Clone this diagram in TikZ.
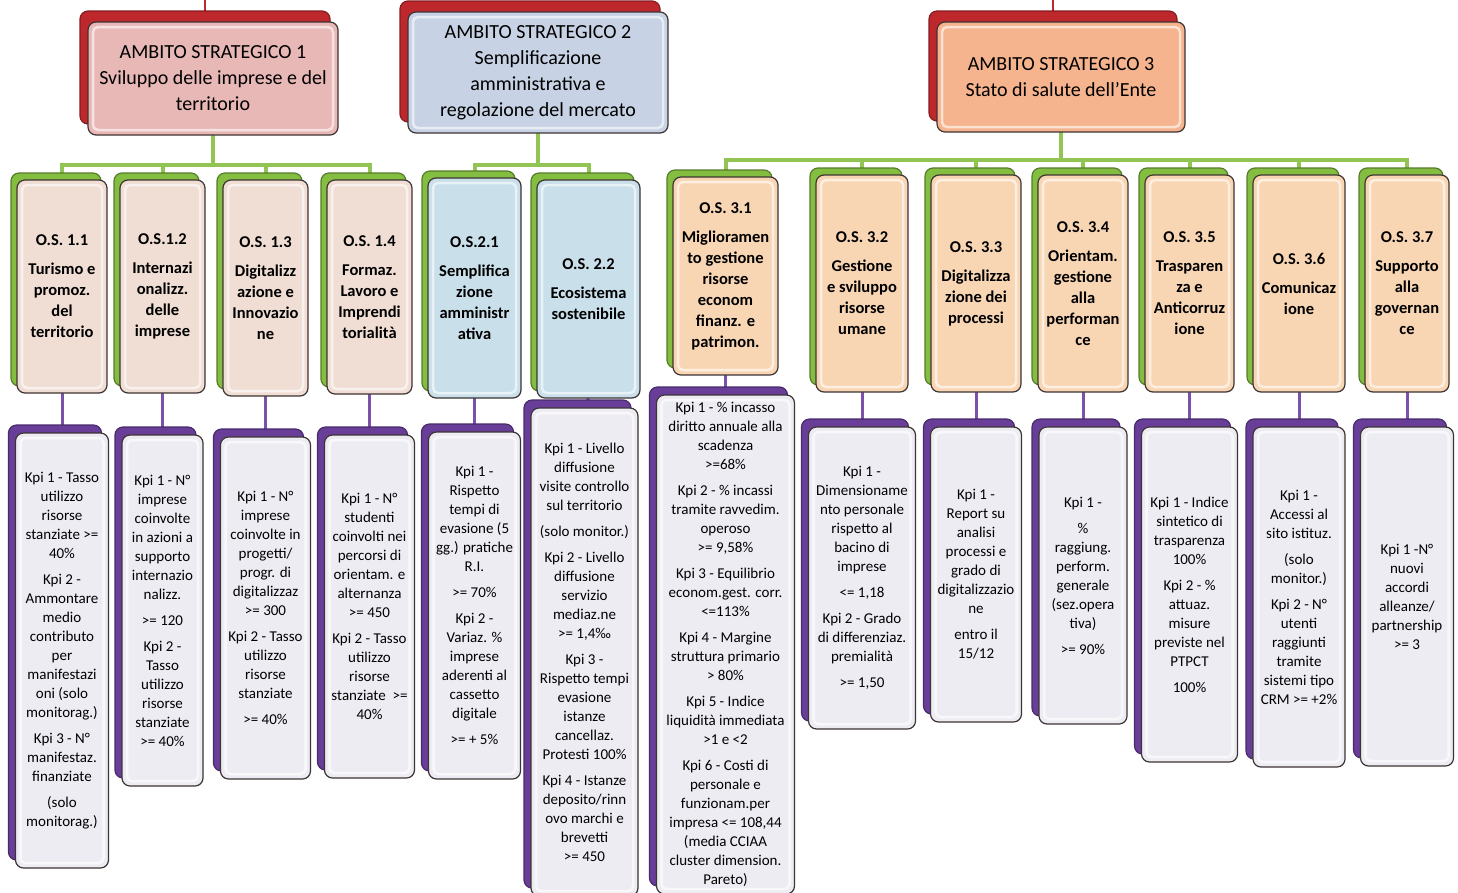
\documentclass[tikz,border=0pt]{standalone}
\usepackage{fontspec}
\setmainfont{Carlito}
\usetikzlibrary{positioning, shadows, backgrounds}

\definecolor{asred}{RGB}{190,40,45}
\definecolor{as1fill}{RGB}{232,184,182}
\definecolor{as2fill}{RGB}{199,210,228}
\definecolor{as3fill}{RGB}{245,180,142}
\definecolor{osgreen}{RGB}{132,190,65}
\definecolor{os1fill}{RGB}{240,222,212}
\definecolor{os2fill}{RGB}{201,223,234}
\definecolor{os3fill}{RGB}{248,214,180}
\definecolor{kpipurple}{RGB}{104,62,152}
\definecolor{kpifill}{RGB}{238,236,243}
\definecolor{linkgreen}{RGB}{146,196,84}
\definecolor{linkpurple}{RGB}{122,82,172}
\definecolor{boxedge}{RGB}{62,52,52}

\begin{document}
\begin{tikzpicture}[
    x=1pt, y=-1pt,
    bevelbox/.style={rectangle, rounded corners=8pt, draw=boxedge, line width=1.2pt, inner sep=0pt, outer sep=0pt, align=center,
        path picture={\draw[white, opacity=.6, line width=2.5pt, rounded corners=5pt]
            ([shift={(5pt,5pt)}]path picture bounding box.south west) rectangle
            ([shift={(-5pt,-5pt)}]path picture bounding box.north east);}},
    ambito/.style={bevelbox, font=\fontsize{20}{26}\selectfont,
        drop shadow={shadow xshift=-8pt, shadow yshift=11pt, fill=asred, draw=asred!70!black, opacity=1}},
    obiettivo/.style={bevelbox, font=\bfseries\fontsize{16.5}{21}\selectfont,
        drop shadow={shadow xshift=-6pt, shadow yshift=7pt, fill=osgreen, draw=osgreen!65!black, opacity=1}},
    ob1/.style={obiettivo, fill=os1fill},
    ob2/.style={obiettivo, fill=os2fill},
    ob3/.style={obiettivo, fill=os3fill},
    kpibox/.style={bevelbox, fill=kpifill, font=\fontsize{15}{19}\selectfont,
        drop shadow={shadow xshift=-7pt, shadow yshift=8pt, fill=kpipurple, draw=kpipurple!70!black, opacity=1}},
    greenlink/.style={draw=linkgreen, line width=4pt},
    purplelink/.style={draw=linkpurple, line width=3pt},
    redlink/.style={draw=asred, line width=1.5pt}
]
\useasboundingbox (0,0) rectangle (1458,892);

% === AMBITI STRATEGICI ===
\node (as1) [ambito, fill=as1fill, minimum width=250pt, minimum height=113pt, anchor=north west] at (88,22)
    {AMBITO STRATEGICO 1\\Sviluppo delle imprese e del\\territorio};
\node (as2) [ambito, fill=as2fill, minimum width=260pt, minimum height=121pt, anchor=north west] at (408,12)
    {AMBITO STRATEGICO 2\\Semplificazione\\amministrativa e\\regolazione del mercato};
\node (as3) [ambito, fill=as3fill, minimum width=248pt, minimum height=110pt, anchor=north west] at (937,22)
    {AMBITO STRATEGICO 3\\Stato di salute dell'Ente};

\coordinate (up1) at (205,0);
\coordinate (up3) at (1053,0);

% === OBIETTIVI STRATEGICI ===
\node (os11) [ob1, minimum width=90pt, minimum height=213pt, anchor=north west] at (17,180)
    {O.S. 1.1\\[8pt]Turismo e\\promoz.\\del\\territorio};
\node (os12) [ob1, minimum width=85pt, minimum height=213pt, right=13pt of os11.north east, anchor=north west]
    {O.S.1.2\\[8pt]Internazi\\onalizz.\\delle\\imprese};
\node (os13) [ob1, minimum width=85pt, minimum height=216pt, right=18pt of os12.north east, anchor=north west]
    {O.S. 1.3\\[8pt]Digitalizz\\azione e\\Innovazio\\ne};
\node (os14) [ob1, minimum width=85pt, minimum height=214pt, right=19pt of os13.north east, anchor=north west]
    {O.S. 1.4\\[8pt]Formaz.\\Lavoro e\\Imprendi\\torialità};
\node (os21) [ob2, minimum width=93pt, minimum height=220pt, right=16pt of os14.north east, anchor=north west, yshift=2pt]
    {O.S.2.1\\[8pt]Semplifica\\zione\\amministr\\ativa};
\node (os22) [ob2, minimum width=103pt, minimum height=218pt, right=16pt of os21.north east, anchor=north west, yshift=-2pt]
    {O.S. 2.2\\[8pt]Ecosistema\\sostenibile};
\node (os31) [ob3, minimum width=105pt, minimum height=198pt, right=33pt of os22.north east, anchor=north west, yshift=3pt]
    {O.S. 3.1\\[8pt]Miglioramen\\to gestione\\risorse\\econom\\finanz. e\\patrimon.};
\node (os32) [ob3, minimum width=92pt, minimum height=217pt, right=38pt of os31.north east, anchor=north west, yshift=2pt]
    {O.S. 3.2\\[8pt]Gestione\\e sviluppo\\risorse\\umane};
\node (os33) [ob3, minimum width=90pt, minimum height=217pt, right=23pt of os32.north east, anchor=north west]
    {O.S. 3.3\\[8pt]Digitalizza\\zione dei\\processi};
\node (os34) [ob3, minimum width=90pt, minimum height=217pt, right=17pt of os33.north east, anchor=north west]
    {O.S. 3.4\\[8pt]Orientam.\\gestione\\alla\\performan\\ce};
\node (os35) [ob3, minimum width=89pt, minimum height=217pt, right=17pt of os34.north east, anchor=north west]
    {O.S. 3.5\\[8pt]Trasparen\\za e\\Anticorruz\\ione};
\node (os36) [ob3, minimum width=92pt, minimum height=217pt, right=19pt of os35.north east, anchor=north west]
    {O.S. 3.6\\[8pt]Comunicaz\\ione};
\node (os37) [ob3, minimum width=84pt, minimum height=217pt, right=20pt of os36.north east, anchor=north west]
    {O.S. 3.7\\[8pt]Supporto\\alla\\governan\\ce};

% === KPI ===
\node (kpi11) [kpibox, minimum width=93pt, minimum height=435pt, below=40pt of os11]
    {Kpi 1 - Tasso\\utilizzo\\risorse\\stanziate >=\\40\%\\[7pt]Kpi 2 -\\Ammontare\\medio\\contributo\\per\\manifestazi\\oni (solo\\monitorag.)\\[7pt]Kpi 3 - N°\\manifestaz.\\finanziate\\[7pt](solo\\monitorag.)};
\node (kpi12) [kpibox, minimum width=81pt, minimum height=351pt, below=42pt of os12]
    {Kpi 1 - N°\\imprese\\coinvolte\\in azioni a\\supporto\\internazio\\nalizz.\\[7pt]>= 120\\[7pt]Kpi 2 -\\Tasso\\utilizzo\\risorse\\stanziate\\>= 40\%};
\node (kpi13) [kpibox, minimum width=90pt, minimum height=342pt, below=41pt of os13]
    {Kpi 1 - N°\\imprese\\coinvolte in\\progetti/\\progr. di\\digitalizzaz\\>= 300\\[7pt]Kpi 2 - Tasso\\utilizzo\\risorse\\stanziate\\[7pt]>= 40\%};
\node (kpi14) [kpibox, minimum width=90pt, minimum height=343pt, below=41pt of os14]
    {Kpi 1 - N°\\studenti\\coinvolti nei\\percorsi di\\orientam. e\\alternanza\\>= 450\\[7pt]Kpi 2 - Tasso\\utilizzo\\risorse\\stanziate~ >=\\40\%};
\node (kpi21) [kpibox, minimum width=92pt, minimum height=347pt, below=34pt of os21]
    {Kpi 1 -\\Rispetto\\tempi di\\evasione (5\\gg.) pratiche\\R.I.\\[7pt]>= 70\%\\[7pt]Kpi 2 -\\Variaz. \%\\imprese\\aderenti al\\cassetto\\digitale\\[7pt]>= + 5\%};
\node (kpi22) [kpibox, minimum width=107pt, minimum height=488pt, below=10pt of os22, xshift=-4pt]
    {Kpi 1 - Livello\\diffusione\\visite controllo\\sul territorio\\[7pt](solo monitor.)\\[7pt]Kpi 2 - Livello\\diffusione\\servizio\\mediaz.ne\\>= 1,4‰\\[7pt]Kpi 3 -\\Rispetto tempi\\evasione\\istanze\\cancellaz.\\Protesti 100\%\\[7pt]Kpi 4 - Istanze\\deposito/rinn\\ovo marchi e\\brevetti\\>= 450};
\node (kpi31) [kpibox, minimum width=138pt, minimum height=499pt, below=20pt of os31]
    {Kpi 1 - \% incasso\\diritto annuale alla\\scadenza\\>=68\%\\[7pt]Kpi 2 - \% incassi\\tramite ravvedim.\\operoso\\>= 9,58\%\\[7pt]Kpi 3 - Equilibrio\\econom.gest. corr.\\<=113\%\\[7pt]Kpi 4 - Margine\\struttura primario\\> 80\%\\[7pt]Kpi 5 - Indice\\liquidità immediata\\>1 e <2\\[7pt]Kpi 6 - Costi di\\personale e\\funzionam.per\\impresa <= 108,44\\(media CCIAA\\cluster dimension.\\Pareto)};
\node (kpi32) [kpibox, minimum width=107pt, minimum height=302pt, below=35pt of os32]
    {Kpi 1 -\\Dimensioname\\nto personale\\rispetto al\\bacino di\\imprese\\[7pt]<= 1,18\\[7pt]Kpi 2 - Grado\\di differenziaz.\\premialità\\[7pt]>= 1,50};
\node (kpi33) [kpibox, minimum width=91pt, minimum height=295pt, below=35pt of os33]
    {Kpi 1 -\\Report su\\analisi\\processi e\\grado di\\digitalizzazio\\ne\\[7pt]entro il\\15/12};
\node (kpi34) [kpibox, minimum width=88pt, minimum height=297pt, below=35pt of os34]
    {Kpi 1 -\\[7pt]\%\\raggiung.\\perform.\\generale\\(sez.opera\\tiva)\\[7pt]>= 90\%};
\node (kpi35) [kpibox, minimum width=96pt, minimum height=335pt, below=35pt of os35]
    {Kpi 1 - Indice\\sintetico di\\trasparenza\\100\%\\[7pt]Kpi 2 - \%\\attuaz.\\misure\\previste nel\\PTPCT\\[7pt]100\%};
\node (kpi36) [kpibox, minimum width=92pt, minimum height=340pt, below=35pt of os36]
    {Kpi 1 -\\Accessi al\\sito istituz.\\[7pt](solo\\monitor.)\\[7pt]Kpi 2 - N°\\utenti\\raggiunti\\tramite\\sistemi tipo\\CRM >= +2\%};
\node (kpi37) [kpibox, minimum width=93pt, minimum height=339pt, below=35pt of os37]
    {Kpi 1 -N°\\nuovi\\accordi\\alleanze/\\partnership\\>= 3};

% === CONNECTORS (behind the boxes) ===
\begin{scope}[on background layer]
\fill[white] (0,0) rectangle (1458,892);
\draw[redlink] (up1) -- (up1 |- as1.north);
\draw[redlink] (up3) -- (up3 |- as3.north);
\foreach \c in {11,12,13,14}
    \draw[greenlink] (as1.south) -- ++(0,30) -| (os\c.north);
\foreach \c in {21,22}
    \draw[greenlink] (as2.south) -- ++(0,32) -| (os\c.north);
\foreach \c in {31,32,33,34,35,36,37}
    \draw[greenlink] (as3.south) -- ++(0,28) -| (os\c.north);
\foreach \c in {11,12,13,14,21,22,31,32,33,34,35,36,37}
    \draw[purplelink] (os\c.south) -- (kpi\c.north);
\end{scope}

\end{tikzpicture}
\end{document}
